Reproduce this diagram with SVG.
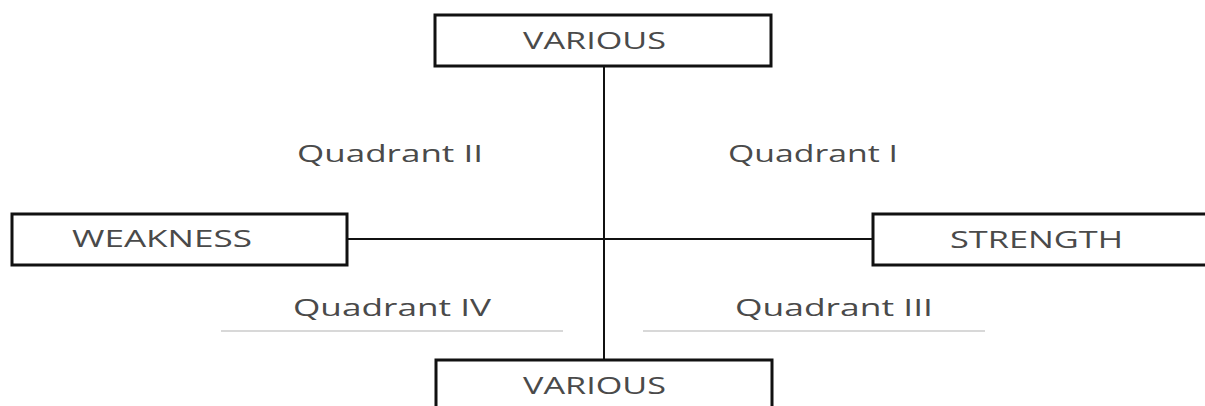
<svg xmlns="http://www.w3.org/2000/svg" width="1205" height="406" viewBox="0 0 1205 406">
<style>
.box{fill:#fff;stroke:#111;stroke-width:3}
.lbl{font-family:"Open Sans","Liberation Sans",sans-serif;font-size:23px;fill:#4a4a4a}
.q{font-family:"Open Sans","Liberation Sans",sans-serif;font-size:23px;fill:#4a4a4a}
.conn{stroke:#111;stroke-width:2;fill:none}
.rule{stroke:#d8d8d8;stroke-width:2}
</style>
<rect width="1205" height="406" fill="#fff"/>
<g id="connectors">
<line class="conn" x1="604" y1="66" x2="604" y2="360"/>
<line class="conn" x1="347" y1="239" x2="873" y2="239"/>
</g>
<g id="node-various-top">
<rect class="box" x="435" y="15" width="336" height="51"/>
<text class="lbl" x="523" y="49" textLength="143" lengthAdjust="spacingAndGlyphs">VARIOUS</text>
</g>
<g id="node-weakness">
<rect class="box" x="12" y="214" width="335" height="51"/>
<text class="lbl" x="72" y="247" textLength="180" lengthAdjust="spacingAndGlyphs">WEAKNESS</text>
</g>
<g id="node-strength">
<rect class="box" x="873" y="214" width="340" height="51"/>
<text class="lbl" x="950" y="248" textLength="173" lengthAdjust="spacingAndGlyphs">STRENGTH</text>
</g>
<g id="node-various-bottom">
<rect class="box" x="436" y="360" width="336" height="60"/>
<text class="lbl" x="523" y="394" textLength="143" lengthAdjust="spacingAndGlyphs">VARIOUS</text>
</g>
<g id="quadrant-labels">
<text class="q" x="297" y="162" textLength="186" lengthAdjust="spacingAndGlyphs">Quadrant II</text>
<text class="q" x="728" y="162" textLength="170" lengthAdjust="spacingAndGlyphs">Quadrant I</text>
<text class="q" x="293" y="316" textLength="198" lengthAdjust="spacingAndGlyphs">Quadrant IV</text>
<text class="q" x="735" y="316" textLength="198" lengthAdjust="spacingAndGlyphs">Quadrant III</text>
<line class="rule" x1="221" y1="331" x2="563" y2="331"/>
<line class="rule" x1="643" y1="331" x2="985" y2="331"/>
</g>
</svg>
